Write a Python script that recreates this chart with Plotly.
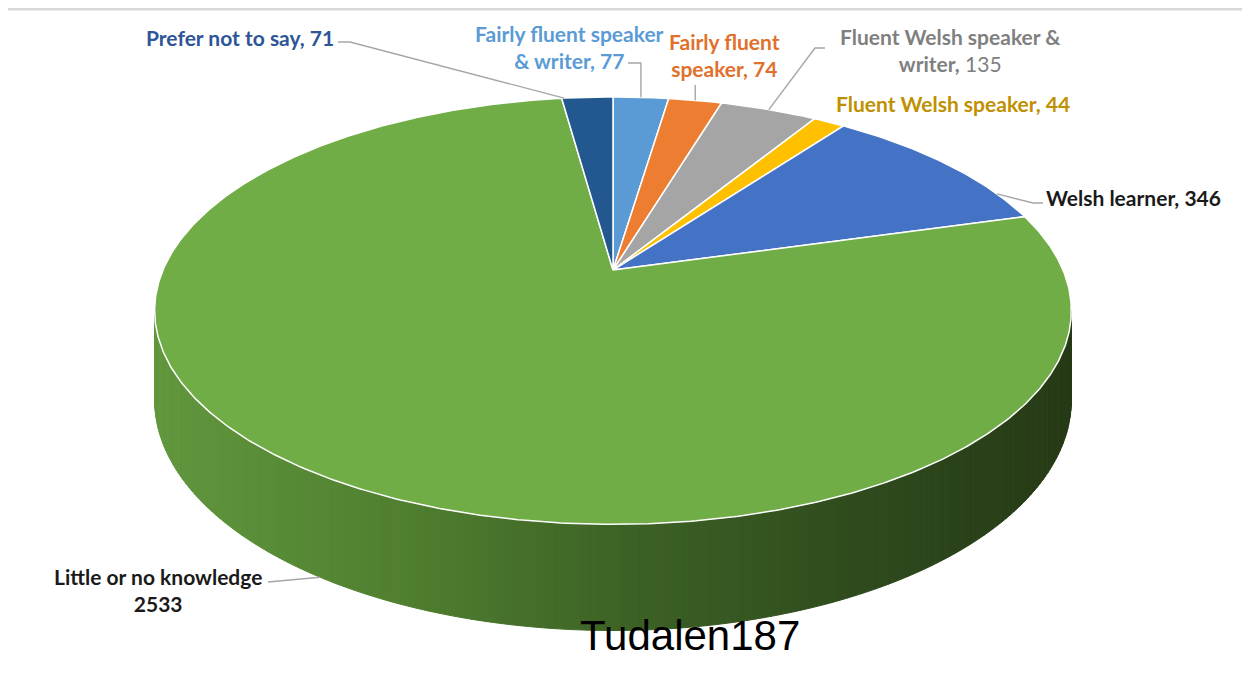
import numpy as np
import plotly.graph_objects as go

# ---------------- data (clockwise from 12 o'clock) ----------------
categories = [
    "Fairly fluent speaker & writer",
    "Fairly fluent speaker",
    "Fluent Welsh speaker & writer",
    "Fluent Welsh speaker",
    "Welsh learner",
    "Little or no knowledge",
    "Prefer not to say",
]
values = [77, 74, 135, 44, 346, 2533, 71]
slice_colors = ["#5B9BD5", "#ED7D31", "#A5A5A5", "#FFC000", "#4472C4", "#70AD47", "#22578F"]
label_colors = ["#5B9BD5", "#E0702A", "#7F7F7F", "#BF9000", "#1A1A1A", "#1A1A1A", "#2E5597"]
label_texts = [
    "<b>Fairly fluent speaker<br>&amp; writer, {v}</b>",
    "<b>Fairly fluent<br>speaker, {v}</b>",
    "<b>Fluent Welsh speaker &amp;<br>writer,</b> {v}",
    "<b>Fluent Welsh speaker, {v}</b>",
    "<b>Welsh learner, {v}</b>",
    "<b>Little or no knowledge<br>{v}</b>",
    "<b>Prefer not to say, {v}</b>",
]
title_text = "Tudalen187"

# ---------------- geometry / layout constants ----------------
OFF = 8.0                  # page body margin (so axis units == window pixels)
CX, CY = 613.0, 270.0      # apex of the pie on screen
A, B, K = 450.0, 206.0, 0.19  # horizontal radius, vertical radius, perspective
H = 86.0                   # thickness
label_pos = [(569, 47), (724, 55), (950, 50), (953, 103), (1133, 197), (158, 590), (240, 37)]
leader_frac = [0.5, 0.5, 0.5, None, 0.8, 0.5, 0.05]
leader_elbow = [
    [(628, 63), "ax63"],
    ["ax85"],
    [(825, 48), (815, 48)],
    None,
    [(1043, 203), (1033, 203)],
    [(268, 582)],
    [(338, 42), (350, 42)],
]


def uv(theta_deg):
    t = np.radians(theta_deg)
    return np.sin(t), np.cos(t)


def proj(theta_deg):
    u, v = uv(theta_deg)
    s = 1 + K * v
    return CX + A * u / s, CY - B * v / s


def proj_bottom(theta_deg):
    u, v = uv(theta_deg)
    x, y = proj(theta_deg)
    return x, y + H / (1 + K * v)


total = float(sum(values))
angles = np.cumsum([0] + [v / total * 360.0 for v in values])

fig = go.Figure()

# ---------------- side wall (gradient strips) ----------------
sil = np.degrees(np.arccos(-K))
wall_t = np.linspace(sil, 360 - sil, 181)
stops_x = [150, 400, 613, 850, 1075]
stops_c = [(98, 152, 62), (80, 128, 48), (62, 100, 38), (48, 76, 30), (38, 58, 22)]


def wall_color(x):
    r = np.interp(x, stops_x, [c[0] for c in stops_c])
    g = np.interp(x, stops_x, [c[1] for c in stops_c])
    b = np.interp(x, stops_x, [c[2] for c in stops_c])
    return f"rgb({int(r)},{int(g)},{int(b)})"


for t0, t1 in zip(wall_t[:-1], wall_t[1:]):
    x0, y0 = proj(t0)
    x1, y1 = proj(t1)
    bx1, by1 = proj_bottom(t1)
    bx0, by0 = proj_bottom(t0)
    col = wall_color((x0 + x1) / 2)
    fig.add_trace(go.Scatter(
        x=[x0, x1, bx1, bx0, x0], y=[y0, y1, by1, by0, y0],
        mode="lines", fill="toself", fillcolor=col,
        line=dict(color=col, width=1), hoverinfo="skip", showlegend=False))

# ---------------- top surface slices ----------------
for i, (cat, val) in enumerate(zip(categories, values)):
    a0, a1 = angles[i], angles[i + 1]
    n = max(int((a1 - a0) * 2), 4)
    ts = np.linspace(a0, a1, n)
    xs = [CX] + [proj(t)[0] for t in ts] + [CX]
    ys = [CY] + [proj(t)[1] for t in ts] + [CY]
    fig.add_trace(go.Scatter(
        x=xs, y=ys, mode="lines", fill="toself", fillcolor=slice_colors[i],
        line=dict(color="white", width=1.5), name=cat,
        hovertemplate=f"{cat}: {val}<extra></extra>", showlegend=False))

# ---------------- leader lines ----------------
for i in range(len(values)):
    if leader_frac[i] is None:
        continue
    a = angles[i] + leader_frac[i] * (angles[i + 1] - angles[i])
    if categories[i] == "Little or no knowledge":
        ax, ay = proj_bottom(a)
    else:
        ax, ay = proj(a)
    pts = []
    for p in leader_elbow[i]:
        if isinstance(p, str):
            pts.append((ax, float(p[2:])))
        else:
            pts.append(p)
    pts.append((ax, ay))
    fig.add_trace(go.Scatter(
        x=[p[0] for p in pts], y=[p[1] for p in pts], mode="lines",
        line=dict(color="#A6A6A6", width=1.4), hoverinfo="skip", showlegend=False))

# ---------------- labels ----------------
for i, val in enumerate(values):
    fig.add_annotation(
        x=label_pos[i][0], y=label_pos[i][1], text=label_texts[i].format(v=val),
        showarrow=False, xanchor="center", yanchor="middle", align="center",
        font=dict(family="Lato", size=21, color=label_colors[i]))

fig.add_annotation(
    x=690, y=635, text=title_text, showarrow=False, xanchor="center", yanchor="middle",
    font=dict(family="Liberation Sans, Arial", size=42, color="black"))

# frame line at the top
fig.add_shape(type="line", x0=0, x1=1260, y0=9, y1=9, line=dict(color="#D9D9D9", width=3))

fig.update_layout(
    width=1250, height=684, margin=dict(l=0, r=0, t=0, b=0),
    paper_bgcolor="white", plot_bgcolor="white", showlegend=False,
    xaxis=dict(visible=False, range=[OFF, 1250 + OFF], fixedrange=True),
    yaxis=dict(visible=False, range=[684 + OFF, OFF], fixedrange=True),
)

fig.write_html("out.html")
